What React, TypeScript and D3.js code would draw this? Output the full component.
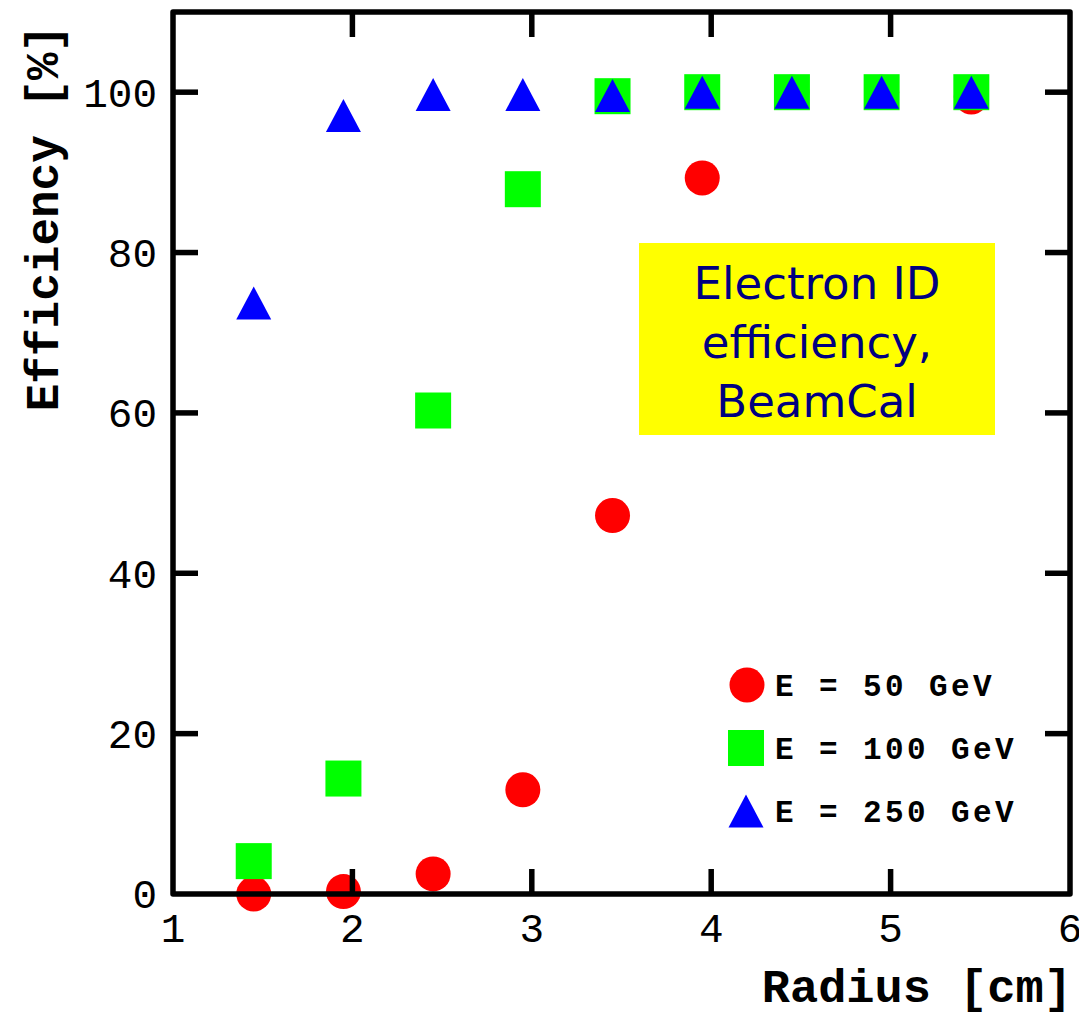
import React from "react";
import * as d3 from "d3";

const radius = [1.45, 1.95, 2.45, 2.95, 3.45, 3.95, 4.45, 4.95, 5.45];
const eff50 = [0, 0.3, 2.5, 13, 47.2, 89.3, 100, 100, 99.4];
const eff100 = [4.1, 14.4, 60.3, 87.9, 99.5, 100, 100, 100, 100];
const eff250 = [73.7, 97.1, 99.7, 99.7, 99.6, 100, 100, 100, 100];
const xTicks = [1, 2, 3, 4, 5, 6];
const yTicks = [0, 20, 40, 60, 80, 100];
const legendLabels = ["E = 50 GeV", "E = 100 GeV", "E = 250 GeV"];
const boxLines = ["Electron ID", "efficiency,", "BeamCal"];

const W = 1079;
const H = 1012;

export default function App() {
  const x = d3.scaleLinear().domain([1, 6]).range([173, 1070]);
  const y = d3.scaleLinear().domain([0, 110]).range([894, 12]);
  const font = "'Liberation Mono', 'Courier New', monospace";
  const lw = 5.5;
  const tickLen = 25;
  const triPath = (cx: number, cy: number) => {
    const p = d3.path();
    p.moveTo(cx, cy - 16.5);
    p.lineTo(cx + 17.5, cy + 16.5);
    p.lineTo(cx - 17.5, cy + 16.5);
    p.closePath();
    return p.toString();
  };
  const legendRows = [685, 748, 811];
  return (
    <div style={{ position: "absolute", left: 0, top: 0 }}>
      <svg width={W} height={H} style={{ display: "block", background: "#fff" }}>
        {/* markers */}
        {radius.map((r, i) => (
          <circle key={"c" + i} cx={x(r)} cy={y(eff50[i])} r={17.5} fill="#ff0000" />
        ))}
        {radius.map((r, i) => (
          <rect key={"s" + i} x={x(r) - 18} y={y(eff100[i]) - 18} width={36} height={36} fill="#00ff00" />
        ))}
        {radius.map((r, i) => (
          <path key={"t" + i} d={triPath(x(r), y(eff250[i]))} fill="#0000ff" />
        ))}
        {/* frame */}
        <rect x={x(1)} y={y(110)} width={x(6) - x(1)} height={y(0) - y(110)} fill="none" stroke="#000" strokeWidth={lw} strokeLinejoin="round" />
        {/* ticks */}
        {xTicks.slice(1, -1).map((t) => (
          <g key={"xt" + t}>
            <line x1={x(t)} x2={x(t)} y1={y(0)} y2={y(0) - tickLen} stroke="#000" strokeWidth={lw} />
            <line x1={x(t)} x2={x(t)} y1={y(110)} y2={y(110) + tickLen} stroke="#000" strokeWidth={lw} />
          </g>
        ))}
        {yTicks.slice(1).map((t) => (
          <g key={"yt" + t}>
            <line x1={x(1)} x2={x(1) + tickLen} y1={y(t)} y2={y(t)} stroke="#000" strokeWidth={lw} />
            <line x1={x(6)} x2={x(6) - tickLen} y1={y(t)} y2={y(t)} stroke="#000" strokeWidth={lw} />
          </g>
        ))}
        {/* tick labels */}
        {xTicks.map((t) => (
          <text key={"xl" + t} x={x(t)} y={942} textAnchor="middle" fontFamily={font} fontSize={41} fill="#000">
            {t}
          </text>
        ))}
        {yTicks.map((t) => (
          <text key={"yl" + t} x={157} y={y(t)} dy="0.35em" textAnchor="end" fontFamily={font} fontSize={41} fill="#000">
            {t}
          </text>
        ))}
        {/* axis titles */}
        <text x={1072} y={1002} textAnchor="end" fontFamily={font} fontWeight="bold" fontSize={47} fill="#000">
          Radius [cm]
        </text>
        <text transform={`translate(58, 218) rotate(-90)`} textAnchor="middle" fontFamily={font} fontWeight="bold" fontSize={46} fill="#000">
          Efficiency [%]
        </text>
        {/* legend */}
        <circle cx={747} cy={legendRows[0]} r={17.5} fill="#ff0000" />
        <rect x={746 - 18} y={legendRows[1] - 18} width={36} height={36} fill="#00ff00" />
        <path d={triPath(746, legendRows[2])} fill="#0000ff" />
        {legendLabels.map((l, i) => (
          <text key={"lg" + i} x={775} y={legendRows[i]} dy="0.35em" fontFamily={font} fontWeight="bold" fontSize={31} letterSpacing={3.4} fill="#000" xmlSpace="preserve">
            {l}
          </text>
        ))}
        {/* annotation box */}
        <rect x={639} y={243} width={356} height={192} fill="#ffff00" />
        {boxLines.map((l, i) => (
          <text key={"bx" + i} x={817} y={283 + i * 59} dy="0.35em" textAnchor="middle" fontFamily="'DejaVu Sans', sans-serif" fontSize={45} fill="#000080">
            {l}
          </text>
        ))}
      </svg>
    </div>
  );
}
